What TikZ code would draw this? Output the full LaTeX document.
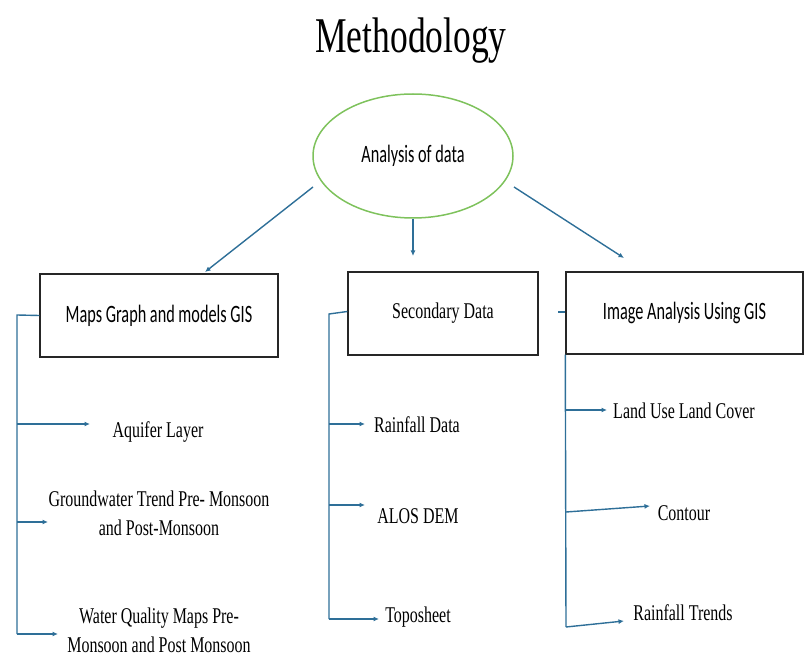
\documentclass[tikz,border=0pt]{standalone}
\usepackage{fontspec}
\setmainfont{Liberation Serif}
\newfontfamily\titlefont[FakeStretch=0.71]{Liberation Serif}
\newfontfamily\serifc[FakeStretch=0.71]{Liberation Serif}
\newfontfamily\sansc[FakeStretch=0.65]{Carlito}
\usetikzlibrary{arrows.meta,shapes.geometric}
\definecolor{linkblue}{HTML}{2E6F98}
\definecolor{ellgreen}{HTML}{7EC25C}
\begin{document}
\begin{tikzpicture}[x=1pt,y=-1pt,
  conn/.style={draw=linkblue, line width=1.4pt},
  arr/.style={conn, -{Latex[length=5.5pt,width=5pt]}},
  box/.style={draw=black!85, line width=1.4pt, rectangle, inner sep=0pt,
    font=\sansc\fontsize{25}{28}\selectfont},
  sbox/.style={box, font=\serifc\fontsize{22.5}{26}\selectfont},
  lab/.style={inner sep=0pt, align=center, text=black,
    font=\serifc\fontsize{22.5}{29}\selectfont}
]
\useasboundingbox (0,0) rectangle (807,663);

\node[inner sep=0pt, anchor=base, font=\titlefont\fontsize{50}{56}\selectfont] (title) at (411,53) {Methodology};

\node[ellipse, draw=ellgreen, line width=1.5pt, minimum width=200pt, minimum height=124pt,
  inner sep=0pt, font=\sansc\fontsize{25}{28}\selectfont] (ell) at (413,156) {Analysis of data};

\node[box, minimum width=238pt, minimum height=83pt] (b1) at (159,315.5) {Maps Graph and models GIS};
\node[sbox, minimum width=190pt, minimum height=83pt] (b2) at (443,313.5) {Secondary Data};
\node[box, minimum width=237pt, minimum height=82pt] (b3) at (684.5,313) {Image Analysis Using GIS};

% arrows from ellipse
\coordinate (e1) at (313,187);
\coordinate (e3) at (514,187);
\coordinate (t1) at (205,272);
\coordinate (t2) at (413,256);
\coordinate (t3) at (624,258);
\draw[arr] (e1) -- (t1);
\draw[arr] (ell.south) -- (t2);
\draw[arr] (e3) -- (t3);

% left branch
\node[lab] (l1) at (158,432) {Aquifer Layer};
\node[lab] (l2) at (159,513) {Groundwater Trend Pre- Monsoon\\and Post-Monsoon};
\node[lab] (l3) at (159,630) {Water Quality Maps Pre-\\Monsoon and Post Monsoon};
\coordinate (lt) at (17,315);
\coordinate (lb) at (17,634);
\coordinate (la1) at (90,424);
\coordinate (la2) at (48,522);
\coordinate (la3) at (58,634);
\draw[conn] (b1.west) -- (lt) -- (lb);
\draw[arr] (lt |- la1) -- (la1);
\draw[arr] (lt |- la2) -- (la2);
\draw[arr] (lb) -- (la3);

% middle branch
\node[lab] (m1) at (417,425) {Rainfall Data};
\node[lab] (m2) at (418,516) {ALOS DEM};
\node[lab] (m3) at (418,617) {Toposheet};
\coordinate (mt) at (329,314);
\coordinate (mb) at (329,619);
\coordinate (ma1) at (365,424);
\coordinate (ma2) at (365,505);
\coordinate (ma3) at (379,619);
\draw[conn] ([yshift=2pt]b2.west) -- (mt) -- (mb);
\draw[arr] (mt |- ma1) -- (ma1);
\draw[arr] (mt |- ma2) -- (ma2);
\draw[arr] (mb) -- (ma3);

% right branch
\node[lab] (r1) at (684,411) {Land Use Land Cover};
\node[lab] (r2) at (684,513) {Contour};
\node[lab] (r3) at (683,613) {Rainfall Trends};
\coordinate (rs) at (558,312);
\coordinate (rb) at (566,627);
\coordinate (rc) at (566,512);
\coordinate (ra1) at (607,410);
\coordinate (ra2) at (650,506);
\coordinate (ra3) at (624,621);
\draw[conn] (rs) -- (b3.west |- rs);
\draw[conn] (b3.south west) -- (rb);
\draw[arr] (rb |- ra1) -- (ra1);
\draw[arr] (rc) -- (ra2);
\draw[arr] (rb) -- (ra3);
\end{tikzpicture}
\end{document}
